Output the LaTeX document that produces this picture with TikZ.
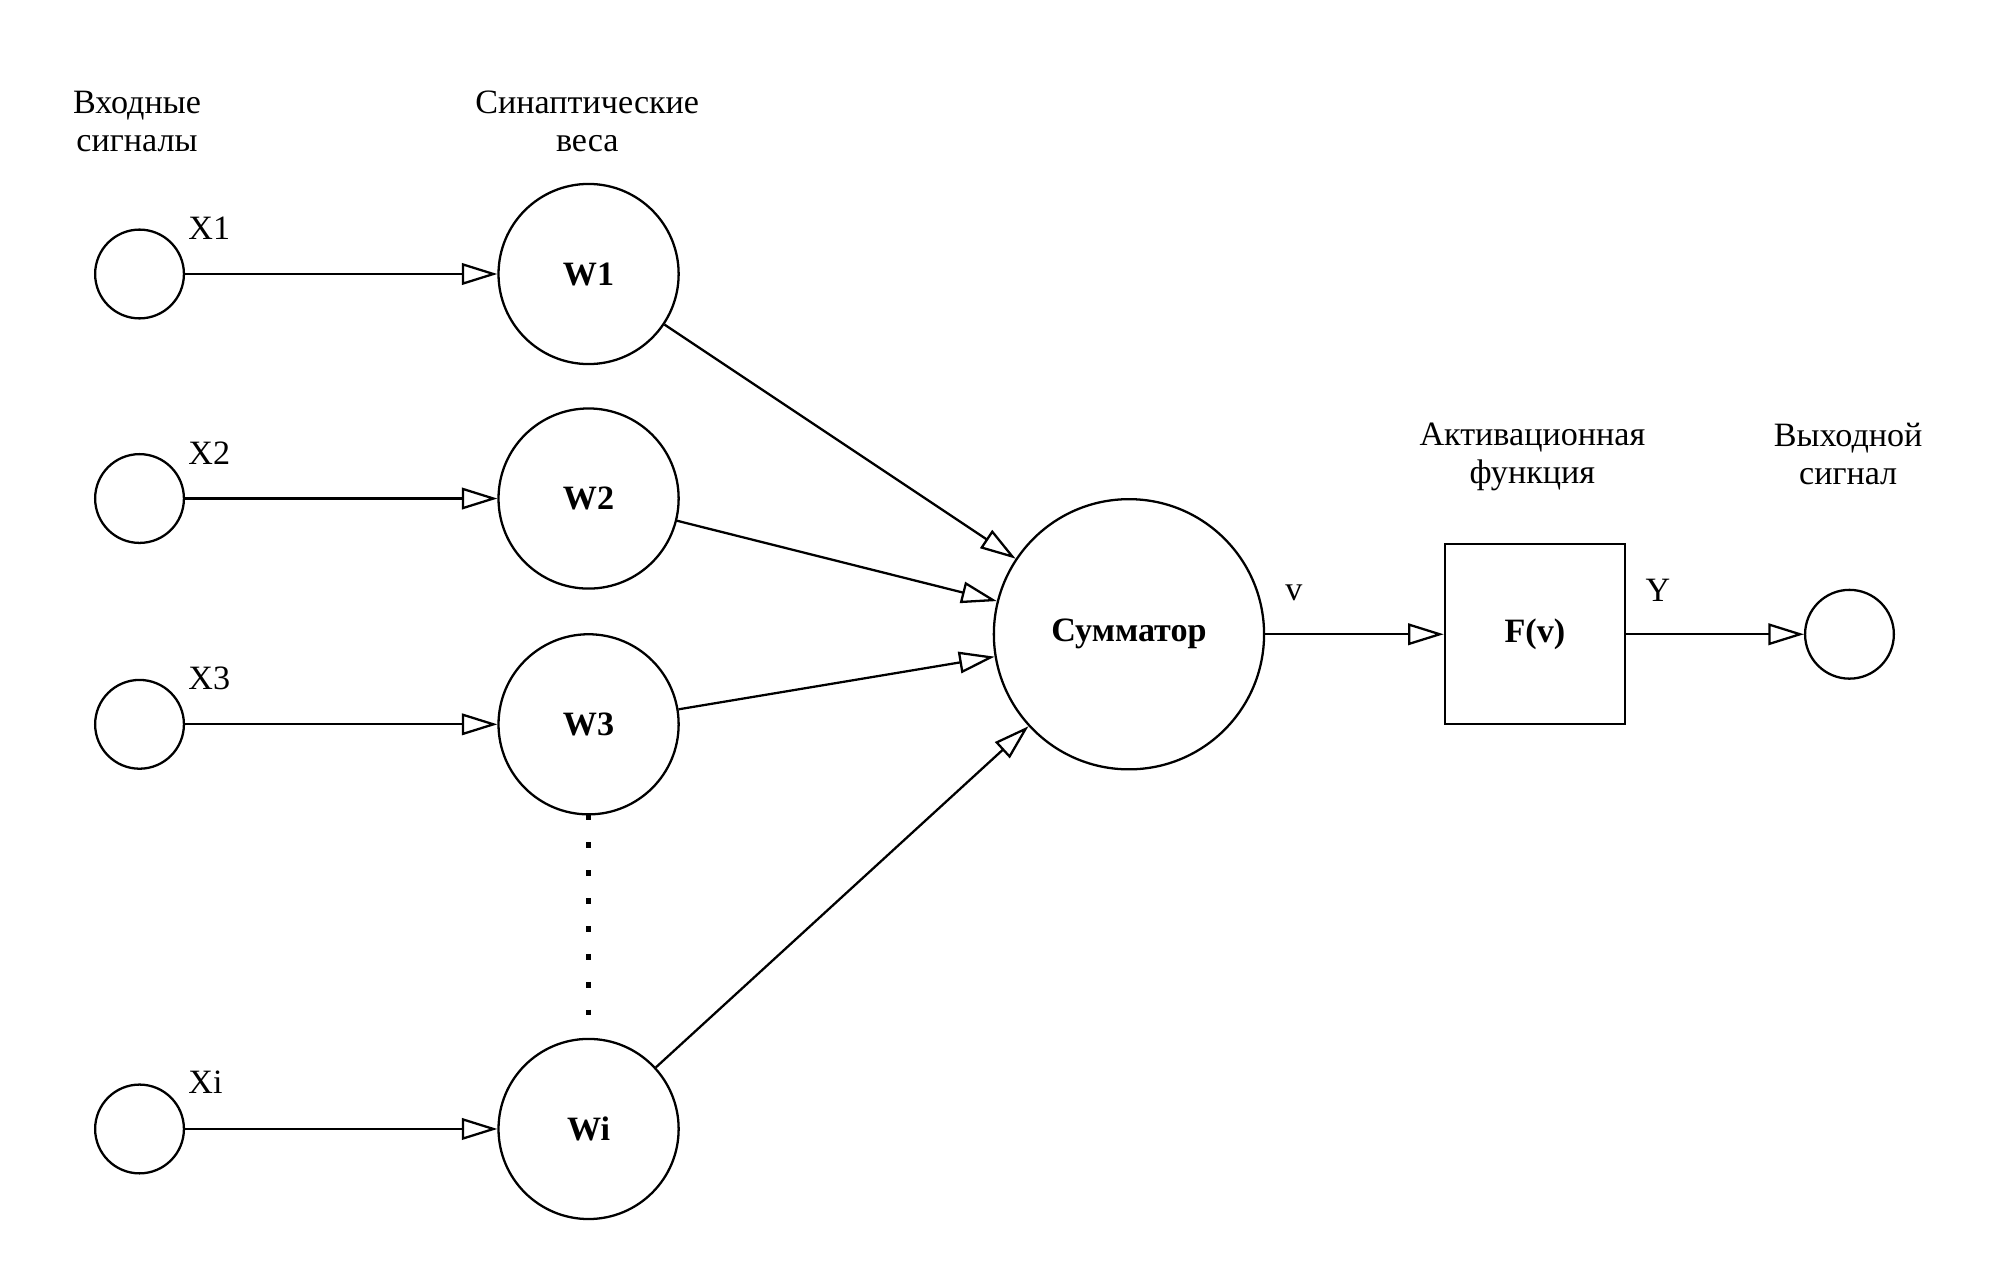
\documentclass[tikz,border=0pt]{standalone}
\usepackage{fontspec}
\setmainfont{Liberation Serif}
\usetikzlibrary{arrows.meta}
\begin{document}
\begin{tikzpicture}[x=1bp,y=-1bp,
  every node/.style={font=\fontsize{27}{30}\selectfont},
  inp/.style={draw,circle,line width=1.8bp,minimum size=70bp,inner sep=0pt},
  wnode/.style={draw,circle,line width=1.8bp,minimum size=142bp,inner sep=0pt,font=\fontsize{27}{30}\selectfont\bfseries},
  sumnode/.style={draw,circle,line width=1.8bp,minimum size=213bp,inner sep=0pt,font=\fontsize{27}{30}\selectfont\bfseries},
  fbox/.style={draw,rectangle,line width=1.8bp,minimum size=142bp,inner sep=0pt,font=\fontsize{27}{30}\selectfont\bfseries},
  conn/.style={line width=1.8bp,-{Triangle[open,length=28bp,width=17bp,line width=1.8bp]}},
  plain/.style={align=center,inner sep=0pt,font=\fontsize{27}{30}\selectfont},
  lab/.style={inner sep=0pt,font=\fontsize{27}{30}\selectfont}
]
\useasboundingbox (0,0) rectangle (1568,1000);
% titles
\node[plain] (t1) at (108,96) {Входные\\сигналы};
\node[plain] (t2) at (463,96) {Синаптические\\веса};
\node[plain] (t3) at (1208,360) {Активационная\\функция};
\node[plain] (t4) at (1457,358) {Выходной\\сигнал};
% inputs
\node[inp] (x1) at (110,216) {};
\node[inp] (x2) at (110,393) {};
\node[inp] (x3) at (110,571) {};
\node[inp] (xi) at (110,890) {};
% weights
\node[wnode] (w1) at (464,216) {W1};
\node[wnode] (w2) at (464,393) {W2};
\node[wnode] (w3) at (464,571) {W3};
\node[wnode] (wi) at (464,890) {Wi};
% summator
\node[sumnode] (s) at (890,500) {Сумматор};
\node[fbox] (f) at (1210,500) {F(v)};
\node[inp] (y) at (1458,500) {};
% labels
\node[lab] (lx1) at (165,180) {X1};
\node[lab] (lx2) at (165,357) {X2};
\node[lab] (lx3) at (165,535) {X3};
\node[lab] (lxi) at (162,853) {Xi};
\node[lab] (lv) at (1020,467) {v};
\node[lab] (ly) at (1307,465) {Y};
% connectors
\draw[conn] (x1) -- (w1);
\draw[conn] (x2) -- (w2);
\draw[conn] (x3) -- (w3);
\draw[conn] (xi) -- (wi);
\draw[conn] (w1) -- (s);
\draw[conn] (w2) -- (s);
\draw[conn] (w3) -- (s);
\draw[conn] (wi) -- (s);
\draw[conn] (s) -- (f);
\draw[conn] (f) -- (y);
% dots
\coordinate (da) at (464,642);
\coordinate (db) at (464,804);
\draw[line width=4.5bp,dash pattern=on 4.5bp off 17.5bp] (da) -- (db);
\end{tikzpicture}
\end{document}
